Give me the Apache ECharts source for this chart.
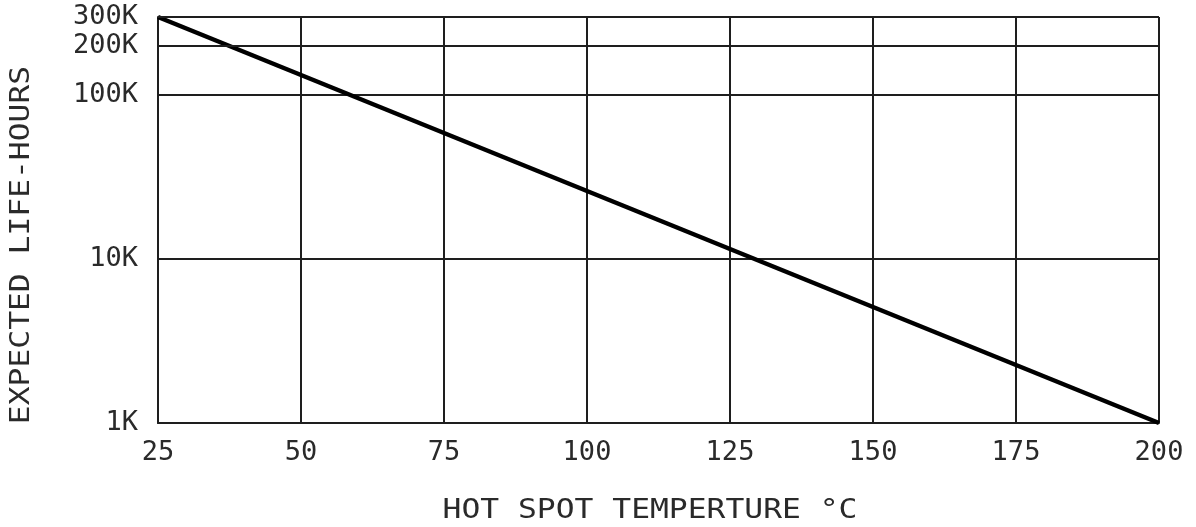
<!DOCTYPE html>
<html>
<head>
<meta charset="utf-8">
<script src="https://cdn.jsdelivr.net/npm/echarts@6/dist/echarts.min.js"></script>
<style>
html,body{margin:0;padding:0;background:#fff;}
#chart{width:1196px;height:527px;}
</style>
</head>
<body>
<div id="chart"></div>
<script>
// Data
const temperatures = [25, 200];          // hot spot temperature, °C
const lifeHours = [300000, 1000];        // expected life, hours
const xTicks = [25, 50, 75, 100, 125, 150, 175, 200];
const extraYLines = [200000, 300000];    // non-decade gridlines
const xTitle = 'HOT SPOT TEMPERTURE °C';
const yTitle = 'EXPECTED LIFE-HOURS';

const FONT = '"DejaVu Sans Mono", monospace';
const TXT = '#2a2a2a';
const GRIDC = '#1e1e1e';

function kLabel(v) { return Math.round(v / 1000) + 'K'; }

const chart = echarts.init(document.getElementById('chart'), null, {renderer: 'canvas'});
chart.setOption({
  animation: false,
  backgroundColor: '#fff',
  grid: {left: 158, right: 37, top: 17, bottom: 104, containLabel: false},
  xAxis: {
    type: 'value',
    min: xTicks[0],
    max: xTicks[xTicks.length - 1],
    interval: 25,
    axisLine: {show: true, lineStyle: {color: GRIDC, width: 2}},
    axisTick: {show: false},
    splitLine: {show: true, lineStyle: {color: GRIDC, width: 2}},
    axisLabel: {color: TXT, fontFamily: FONT, fontSize: 27, margin: 16}
  },
  yAxis: {
    type: 'log',
    logBase: 10,
    min: 1000,
    max: 300000,
    axisLine: {show: true, lineStyle: {color: GRIDC, width: 2}},
    axisTick: {show: false},
    splitLine: {show: true, lineStyle: {color: GRIDC, width: 2}},
    minorSplitLine: {show: false},
    axisLabel: {
      color: TXT, fontFamily: FONT, fontSize: 27, margin: 20,
      showMaxLabel: false,
      formatter: function (v) {
        const l = Math.log10(v);
        if (Math.abs(l - Math.round(l)) > 1e-6) return '';
        return kLabel(v);
      }
    }
  },
  graphic: [
    {
      type: 'text', x: 650, y: 497, scaleX: 1.16,
      style: {text: xTitle, fill: TXT, font: '27px ' + FONT, textAlign: 'center'}
    },
    {
      type: 'text', x: 8, y: 245, rotation: Math.PI / 2, scaleX: 1.16,
      style: {text: yTitle, fill: TXT, font: '27px ' + FONT, textAlign: 'center', textVerticalAlign: 'top'}
    }
  ],
  series: [{
    type: 'line',
    data: temperatures.map((t, i) => [t, lifeHours[i]]),
    showSymbol: false,
    symbol: 'none',
    lineStyle: {color: '#000', width: 4.5},
    silent: true,
    markLine: {
      silent: true,
      symbol: ['none', 'none'],
      animation: false,
      lineStyle: {color: GRIDC, width: 2, type: 'solid'},
      label: {
        show: true, position: 'start', distance: 20,
        color: TXT, fontFamily: FONT, fontSize: 27,
        formatter: function (p) { return kLabel(p.value); }
      },
      data: extraYLines.map(v => ({yAxis: v}))
    }
  }]
});
</script>
</body>
</html>
